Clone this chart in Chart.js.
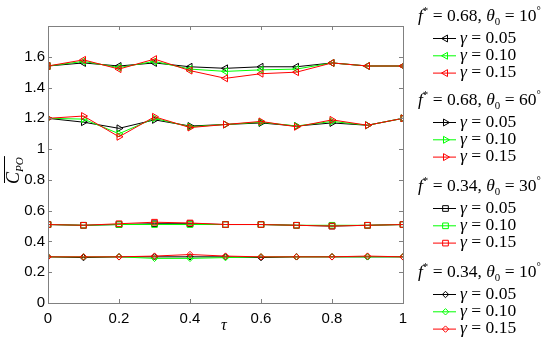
<!DOCTYPE html>
<html>
<head>
<meta charset="utf-8">
<script src="https://cdn.jsdelivr.net/npm/chart.js@4"></script>
<style>
  html, body { margin: 0; padding: 0; background: #fff; }
  #wrap { width: 550px; height: 349px; position: relative; }
</style>
</head>
<body>
<div id="wrap"><canvas id="c"></canvas></div>
<script>
// ---- data ----
const tau = [0, 0.1, 0.2, 0.3, 0.4, 0.5, 0.6, 0.7, 0.8, 0.9, 1];
const yTicks = [0, 0.2, 0.4, 0.6, 0.8, 1, 1.2, 1.4, 1.6];
const xTicks = [0, 0.2, 0.4, 0.6, 0.8, 1];

// f*=0.68, theta0=10 deg
const a_g05 = [1.54, 1.56, 1.54, 1.56, 1.535, 1.525, 1.535, 1.535, 1.56, 1.54, 1.54];
const a_g10 = [1.54, 1.57, 1.53, 1.57, 1.52, 1.505, 1.515, 1.52, 1.56, 1.54, 1.54];
const a_g15 = [1.54, 1.58, 1.52, 1.585, 1.51, 1.46, 1.49, 1.50, 1.56, 1.54, 1.54];
// f*=0.68, theta0=60 deg
const b_g05 = [1.2, 1.175, 1.135, 1.19, 1.15, 1.16, 1.17, 1.15, 1.17, 1.155, 1.2];
const b_g10 = [1.2, 1.195, 1.10, 1.20, 1.145, 1.16, 1.175, 1.15, 1.18, 1.155, 1.2];
const b_g15 = [1.2, 1.215, 1.08, 1.21, 1.14, 1.16, 1.18, 1.145, 1.19, 1.155, 1.2];
// f*=0.34, theta0=30 deg
const c_g05 = [0.51, 0.505, 0.51, 0.515, 0.515, 0.51, 0.51, 0.505, 0.50, 0.505, 0.51];
const c_g10 = [0.51, 0.505, 0.51, 0.51, 0.51, 0.51, 0.51, 0.505, 0.505, 0.505, 0.51];
const c_g15 = [0.51, 0.505, 0.515, 0.525, 0.52, 0.51, 0.51, 0.505, 0.50, 0.505, 0.51];
// f*=0.34, theta0=10 deg
const d_g05 = [0.30, 0.295, 0.30, 0.30, 0.30, 0.30, 0.295, 0.30, 0.30, 0.30, 0.30];
const d_g10 = [0.30, 0.30, 0.30, 0.29, 0.29, 0.295, 0.30, 0.30, 0.30, 0.30, 0.30];
const d_g15 = [0.30, 0.30, 0.30, 0.305, 0.315, 0.305, 0.30, 0.30, 0.30, 0.305, 0.30];

const gammaLabels = ["0.05", "0.10", "0.15"];
const colors = ["#000000", "#00ff00", "#ff0000"];

const groups = [
    { f: "0.68", th: "10", style: "triangle", rot: 270, r: 4, series: [a_g05, a_g10, a_g15] },
    { f: "0.68", th: "60", style: "triangle", rot: 90, r: 4, series: [b_g05, b_g10, b_g15] },
    { f: "0.34", th: "30", style: "rect", rot: 0, r: 4, series: [c_g05, c_g10, c_g15] },
    { f: "0.34", th: "10", style: "rectRot", rot: 0, r: 3.2, series: [d_g05, d_g10, d_g15] }
];

// ======================================================
// build datasets
// ======================================================
const datasets = [];
groups.forEach(g => {
    g.series.forEach((vals, i) => {
        datasets.push({
            label: "g" + gammaLabels[i],
            data: tau.map((t, k) => ({ x: t, y: vals[k] })),
            borderColor: colors[i],
            backgroundColor: "rgba(0,0,0,0)",
            borderWidth: 1,
            pointStyle: g.style,
            pointRotation: g.rot,
            pointRadius: g.r,
            pointBorderWidth: 1,
            tension: 0,
            order: 2 - i
        });
    });
});

const BOX = "#808080";

// draw text runs: [text, style] where style = n (normal), i (italic), sup, sub, isub
function drawRuns(ctx, runs, x, y, size) {
    const fam = "'Liberation Serif', 'DejaVu Serif', serif";
    runs.forEach(([txt, st]) => {
        let fs = size, dy = 0, it = "";
        if (st === "i") it = "italic ";
        if (st === "sup") { fs = size * 0.62; dy = -size * 0.4; }
        if (st === "sub") { fs = size * 0.62; dy = size * 0.22; }
        if (st === "isub") { fs = size * 0.62; dy = size * 0.22; it = "italic "; }
        ctx.font = it + fs + "px " + fam;
        ctx.fillText(txt, x, y + dy);
        x += ctx.measureText(txt).width;
    });
    return x;
}

// ======================================================
// plugin: matlab style box, inward ticks, titles, legend
// ======================================================
const decor = {
    id: "decor",
    afterDraw(chart) {
        const ctx = chart.ctx;
        const a = chart.chartArea;
        const xs = chart.scales.x, ys = chart.scales.y;
        ctx.save();
        ctx.strokeStyle = BOX;
        ctx.lineWidth = 1;
        ctx.strokeRect(Math.round(a.left) + 0.5, Math.round(a.top) + 0.5,
            Math.round(a.right - a.left), Math.round(a.bottom - a.top));
        ctx.beginPath();
        xs.ticks.forEach(t => {
            const px = Math.round(xs.getPixelForValue(t.value)) + 0.5;
            ctx.moveTo(px, a.bottom); ctx.lineTo(px, a.bottom - 4);
            ctx.moveTo(px, a.top); ctx.lineTo(px, a.top + 4);
        });
        ys.ticks.forEach(t => {
            const py = Math.round(ys.getPixelForValue(t.value)) + 0.5;
            ctx.moveTo(a.left, py); ctx.lineTo(a.left + 4, py);
            ctx.moveTo(a.right, py); ctx.lineTo(a.right - 4, py);
        });
        ctx.stroke();

        // axis titles
        ctx.fillStyle = "#000";
        ctx.textBaseline = "alphabetic";
        ctx.textAlign = "left";
        drawRuns(ctx, [["τ", "i"]], 221, 330, 16);

        ctx.save();
        ctx.translate(19, 184);
        ctx.rotate(-Math.PI / 2);
        const endX = drawRuns(ctx, [["C", "i"], ["PO", "isub"]], 0, 0, 18);
        ctx.strokeStyle = "#000";
        ctx.beginPath();
        ctx.moveTo(1, -14.5); ctx.lineTo(endX + 1, -14.5);
        ctx.stroke();
        ctx.restore();

        // legend
        const headY = [21, 105, 191, 277];
        groups.forEach((g, gi) => {
            ctx.fillStyle = "#000";
            drawRuns(ctx, [["f", "i"], ["*", "sup"], [" = " + g.f + ", ", "n"], ["θ", "i"], ["0", "sub"],
                [" = " + g.th, "n"], ["°", "sup"]], 418, headY[gi], 17.5);
            for (let i = 0; i < 3; i++) {
                const ly = headY[gi] + 21.5 + i * 17.3;
                ctx.strokeStyle = colors[i];
                ctx.lineWidth = 1;
                ctx.beginPath();
                ctx.moveTo(433, ly - 4); ctx.lineTo(456, ly - 4);
                ctx.stroke();
                ctx.fillStyle = "rgba(0,0,0,0)";
                Chart.helpers.drawPoint(ctx, {
                    pointStyle: g.style, rotation: g.rot, radius: g.r, borderWidth: 1
                }, 445.5, ly - 4);
                ctx.fillStyle = "#000";
                drawRuns(ctx, [["γ", "i"], [" = " + gammaLabels[i], "n"]], 460, ly, 17.5);
            }
        });
        ctx.restore();
    }
};

new Chart(document.getElementById("c"), {
    type: "line",
    data: { datasets },
    options: {
        responsive: true,
        maintainAspectRatio: false,
        animation: false,
        layout: { padding: { left: 0, right: 147, top: 26, bottom: 0 } },
        plugins: { legend: { display: false }, tooltip: { enabled: false } },
        scales: {
            x: {
                type: "linear",
                min: 0, max: 1,
                afterFit: s => { s.height = 46; },
                afterBuildTicks: s => { s.ticks = xTicks.map(v => ({ value: v })); },
                grid: { display: false, drawTicks: false },
                border: { display: false },
                ticks: {
                    padding: 7,
                    color: "#000",
                    font: { family: "'Liberation Sans', Arial, sans-serif", size: 15 },
                    callback: v => String(Number(v.toFixed(1)))
                }
            },
            y: {
                min: 0, max: 1.8,
                afterFit: s => { s.width = 48; },
                afterBuildTicks: s => { s.ticks = yTicks.map(v => ({ value: v })); },
                grid: { display: false, drawTicks: false },
                border: { display: false },
                ticks: {
                    padding: 3,
                    color: "#000",
                    font: { family: "'Liberation Sans', Arial, sans-serif", size: 15 },
                    callback: v => String(Number(v.toFixed(1)))
                }
            }
        }
    },
    plugins: [decor]
});
</script>
</body>
</html>
